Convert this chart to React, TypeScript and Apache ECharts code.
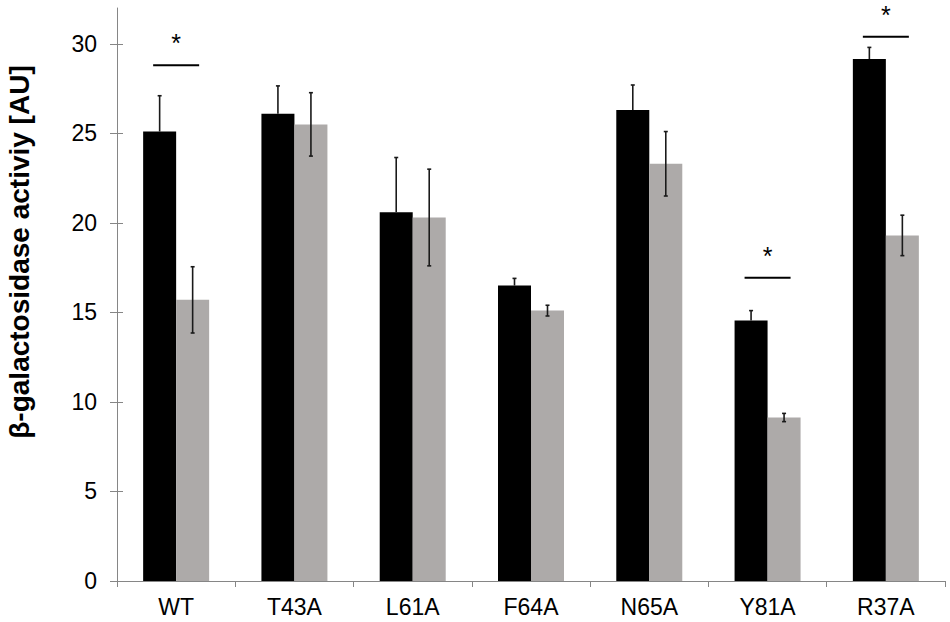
import React, { useEffect, useRef } from "react";
import * as echarts from "echarts";

const categories = ["WT", "T43A", "L61A", "F64A", "N65A", "Y81A", "R37A"];
const blackValues = [25.1, 26.1, 20.6, 16.5, 26.3, 14.55, 29.15];
const grayValues = [15.7, 25.5, 20.3, 15.1, 23.3, 9.13, 19.3];
const blackErrors = [2.0, 1.55, 3.05, 0.4, 1.4, 0.55, 0.65];
const grayErrors = [1.85, 1.77, 2.7, 0.3, 1.8, 0.23, 1.13];
const yTicks = [0, 5, 10, 15, 20, 25, 30];
const sigCategories = ["WT", "Y81A", "R37A"];
const sigLineValues = [28.8, 16.94, 30.4];
const sigStarValues = [30.3, 18.45, 31.9];

const FONT = "'Liberation Sans', Arial, Helvetica, sans-serif";
const BAR_W = 33;

export default function App() {
  const ref = useRef<HTMLDivElement>(null);
  useEffect(() => {
    document.body.style.margin = "0";
    const chart = echarts.init(ref.current!, null, { renderer: "svg" });

    const errData: number[][] = [];
    categories.forEach((_, i) => {
      errData.push([i, blackValues[i], blackErrors[i], -1]);
      errData.push([i, grayValues[i], grayErrors[i], 1]);
    });
    const sigData = sigCategories.map((c, i) => [
      categories.indexOf(c),
      sigLineValues[i],
      sigStarValues[i],
    ]);

    const option: any = {
      animation: false,
      grid: { left: 117, right: 5, top: 8, bottom: 41, containLabel: false },
      xAxis: {
        type: "category",
        data: categories,
        boundaryGap: true,
        axisLine: { lineStyle: { color: "#868686", width: 1 } },
        axisTick: { show: true, length: 6, lineStyle: { color: "#868686" } },
        axisLabel: { fontSize: 23, color: "#000", fontFamily: FONT, margin: 14 },
        splitLine: { show: false },
      },
      yAxis: [
        {
          type: "value",
          min: 0,
          max: 32,
          interval: 5,
          axisLine: { show: true, lineStyle: { color: "#868686", width: 1 } },
          axisTick: {
            show: true,
            length: 7,
            customValues: yTicks,
            lineStyle: { color: "#868686" },
          },
          axisLabel: {
            fontSize: 23,
            color: "#000",
            fontFamily: FONT,
            margin: 20,
            customValues: yTicks,
          },
          splitLine: { show: false },
        },
        {
          type: "value",
          position: "left",
          offset: 0,
          min: 0,
          max: 32,
          interval: 5,
          axisLine: { show: false },
          axisTick: {
            show: true,
            inside: true,
            length: 6,
            customValues: yTicks,
            lineStyle: { color: "#868686" },
          },
          axisLabel: { show: false },
          splitLine: { show: false },
        },
      ],
      series: [
        {
          type: "bar",
          data: blackValues,
          barWidth: BAR_W,
          barGap: "0%",
          itemStyle: { color: "#000000" },
        },
        {
          type: "bar",
          data: grayValues,
          barWidth: BAR_W,
          barGap: "0%",
          itemStyle: { color: "#adaaa9" },
        },
        {
          type: "custom",
          data: errData,
          z: 5,
          renderItem: (params: any, api: any) => {
            const cat = api.value(0);
            const v = api.value(1);
            const e = api.value(2);
            const side = api.value(3);
            const x = api.coord([cat, v])[0] + side * (BAR_W / 2);
            const yTop = api.coord([cat, v + e])[1];
            const yBot = api.coord([cat, v - e])[1];
            const yMid = api.coord([cat, v])[1];
            const st = { stroke: "#1a1a1a", lineWidth: 1.6 };
            const children: any[] = [
              { type: "line", shape: { x1: x - 2, y1: yTop, x2: x + 2, y2: yTop }, style: st },
            ];
            if (side < 0) {
              children.push({ type: "line", shape: { x1: x, y1: yTop, x2: x, y2: yMid }, style: st });
            } else {
              children.push({ type: "line", shape: { x1: x, y1: yTop, x2: x, y2: yBot }, style: st });
              children.push({ type: "line", shape: { x1: x - 2, y1: yBot, x2: x + 2, y2: yBot }, style: st });
            }
            return { type: "group", children };
          },
        },
        {
          type: "custom",
          data: sigData,
          z: 6,
          renderItem: (params: any, api: any) => {
            const cat = api.value(0);
            const lineP = api.coord([cat, api.value(1)]);
            const starP = api.coord([cat, api.value(2)]);
            return {
              type: "group",
              children: [
                {
                  type: "line",
                  shape: { x1: lineP[0] - 23, y1: lineP[1], x2: lineP[0] + 23, y2: lineP[1] },
                  style: { stroke: "#000", lineWidth: 2 },
                },
                {
                  type: "text",
                  x: starP[0],
                  y: starP[1] + 5,
                  style: {
                    text: "*",
                    fontSize: 25,
                    fontFamily: FONT,
                    fill: "#000",
                    align: "center",
                    verticalAlign: "middle",
                  },
                },
              ],
            };
          },
        },
      ],
      graphic: [
        {
          type: "text",
          x: 19,
          y: 252,
          rotation: Math.PI / 2,
          style: {
            text: "β-galactosidase activiy [AU]",
            fontSize: 28,
            fontWeight: "bold",
            fontFamily: FONT,
            fill: "#000",
            align: "center",
            verticalAlign: "middle",
          },
        },
      ],
    };
    chart.setOption(option);
    return () => chart.dispose();
  }, []);
  return (
    <div
      ref={ref}
      style={{ width: 950, height: 622, position: "absolute", left: 0, top: 0, background: "#fff" }}
    />
  );
}
